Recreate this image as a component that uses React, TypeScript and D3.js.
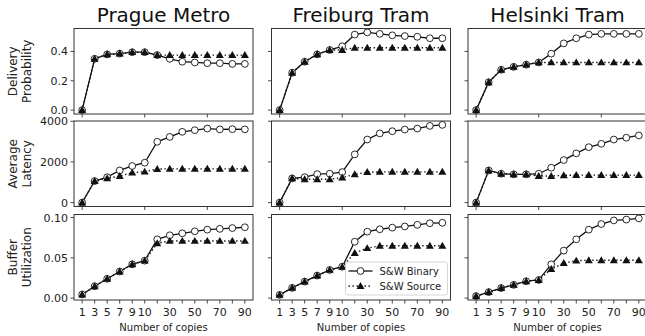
import React from "react";
import * as d3 from "d3";

const xLabels = ["1", "3", "5", "7", "9", "10", "20", "30", "40", "50", "60", "70", "80", "90"];
const shownXLabels = ["1", "3", "5", "7", "9", "10", "30", "50", "70", "90"];
const cities = ["Prague Metro", "Freiburg Tram", "Helsinki Tram"];
const metrics = [["Delivery", "Probability"], ["Average", "Latency"], ["Buffer", "Utilization"]];
const seriesNames = ["S&W Binary", "S&W Source"];

// Delivery probability
const pragueDeliveryBinary = [0, 0.35, 0.38, 0.385, 0.395, 0.395, 0.375, 0.35, 0.33, 0.325, 0.32, 0.32, 0.315, 0.315];
const pragueDeliverySource = [0, 0.35, 0.38, 0.385, 0.395, 0.395, 0.375, 0.375, 0.375, 0.375, 0.375, 0.375, 0.375, 0.375];
const freiburgDeliveryBinary = [0, 0.255, 0.33, 0.38, 0.41, 0.435, 0.515, 0.53, 0.52, 0.51, 0.505, 0.5, 0.49, 0.49];
const freiburgDeliverySource = [0, 0.255, 0.33, 0.38, 0.41, 0.41, 0.425, 0.425, 0.425, 0.425, 0.425, 0.425, 0.425, 0.425];
const helsinkiDeliveryBinary = [0, 0.19, 0.275, 0.295, 0.31, 0.325, 0.385, 0.455, 0.49, 0.515, 0.52, 0.52, 0.52, 0.52];
const helsinkiDeliverySource = [0, 0.19, 0.275, 0.295, 0.31, 0.325, 0.325, 0.325, 0.325, 0.325, 0.325, 0.325, 0.325, 0.325];

// Average latency
const pragueLatencyBinary = [0, 1060, 1250, 1580, 1800, 1960, 2990, 3230, 3480, 3560, 3640, 3600, 3610, 3600];
const pragueLatencySource = [0, 1060, 1190, 1300, 1470, 1520, 1650, 1660, 1660, 1660, 1660, 1660, 1660, 1660];
const freiburgLatencyBinary = [0, 1190, 1250, 1400, 1420, 1500, 2370, 3100, 3400, 3510, 3590, 3640, 3770, 3820];
const freiburgLatencySource = [0, 1190, 1150, 1150, 1150, 1230, 1390, 1500, 1510, 1510, 1510, 1510, 1510, 1510];
const helsinkiLatencyBinary = [0, 1580, 1420, 1390, 1390, 1420, 1715, 2090, 2420, 2725, 2890, 3100, 3190, 3300];
const helsinkiLatencySource = [0, 1580, 1420, 1390, 1390, 1310, 1310, 1340, 1350, 1350, 1350, 1350, 1350, 1350];

// Buffer utilization
const pragueBufferBinary = [0.0045, 0.0148, 0.024, 0.033, 0.042, 0.0465, 0.073, 0.078, 0.0805, 0.083, 0.085, 0.086, 0.087, 0.088];
const pragueBufferSource = [0.0045, 0.0148, 0.024, 0.033, 0.042, 0.0465, 0.068, 0.071, 0.071, 0.071, 0.071, 0.071, 0.071, 0.071];
const freiburgBufferBinary = [0.004, 0.0127, 0.0205, 0.028, 0.035, 0.039, 0.07, 0.0825, 0.0855, 0.0875, 0.089, 0.091, 0.093, 0.0935];
const freiburgBufferSource = [0.004, 0.0127, 0.0205, 0.028, 0.035, 0.039, 0.056, 0.062, 0.065, 0.065, 0.065, 0.065, 0.065, 0.065];
const helsinkiBufferBinary = [0.0025, 0.0075, 0.0125, 0.0165, 0.021, 0.0225, 0.042, 0.059, 0.073, 0.085, 0.092, 0.0965, 0.0975, 0.099];
const helsinkiBufferSource = [0.0025, 0.0075, 0.0125, 0.0165, 0.021, 0.0225, 0.036, 0.0435, 0.0465, 0.047, 0.047, 0.047, 0.047, 0.047];

const yTicks = [[0, 0.2, 0.4], [0, 2000, 4000], [0, 0.05, 0.1]];
const yFormats = [d3.format(".1f"), d3.format("d"), d3.format(".2f")];

const grid: number[][][][] = [
  [
    [pragueDeliveryBinary, pragueDeliverySource],
    [freiburgDeliveryBinary, freiburgDeliverySource],
    [helsinkiDeliveryBinary, helsinkiDeliverySource],
  ],
  [
    [pragueLatencyBinary, pragueLatencySource],
    [freiburgLatencyBinary, freiburgLatencySource],
    [helsinkiLatencyBinary, helsinkiLatencySource],
  ],
  [
    [pragueBufferBinary, pragueBufferSource],
    [freiburgBufferBinary, freiburgBufferSource],
    [helsinkiBufferBinary, helsinkiBufferSource],
  ],
];

const W = 645;
const H = 336;
const colLeft = [74, 271.5, 468];
const panelW = 179;
const rowTop = [28.5, 121, 214.5];
const panelH = 85.5;
const FONT = "DejaVu Sans, sans-serif";
const spine = "#333";

const triangle = d3.symbol().type(d3.symbolTriangle).size(28)();

export default function App() {
  const n = xLabels.length;
  const x = d3.scaleLinear().domain([-0.65, n - 1 + 0.65]).range([0, panelW]);

  return (
    <svg width={W} height={H} style={{ position: "absolute", left: 0, top: 0 }} fontFamily={FONT}>
      <rect width={W} height={H} fill="white" />
      {cities.map((c, ci) => (
        <text key={c} x={colLeft[ci] + panelW / 2} y={21.5} textAnchor="middle" fontSize={20} fill="#111">
          {c}
        </text>
      ))}
      {grid.map((row, ri) => {
        const all = row.flat(2);
        const mn = d3.min(all)!;
        const mx = d3.max(all)!;
        const pad = (mx - mn) * 0.05;
        const y = d3.scaleLinear().domain([mn - pad, mx + pad]).range([panelH, 0]);
        const cy = rowTop[ri] + panelH / 2;
        return (
          <g key={ri}>
            <text transform={`translate(16.5,${cy}) rotate(-90)`} textAnchor="middle" fontSize={12} fill="#222">
              {metrics[ri][0]}
            </text>
            <text transform={`translate(30.5,${cy}) rotate(-90)`} textAnchor="middle" fontSize={12} fill="#222">
              {metrics[ri][1]}
            </text>
            {row.map((panel, ci) => {
              const lineGen = d3
                .line<number>()
                .x((_, i) => x(i))
                .y((v) => y(v));
              const isBottom = ri === 2;
              const tickIdx = isBottom ? d3.range(n) : [0, 5, 10];
              return (
                <g key={ci} transform={`translate(${colLeft[ci]},${rowTop[ri]})`}>
                  <defs>
                    <clipPath id={`clip-${ri}-${ci}`}>
                      <rect x={-6} y={-6} width={panelW + 12} height={panelH + 12} />
                    </clipPath>
                  </defs>
                  {tickIdx.map((i) => (
                    <line key={i} x1={x(i)} x2={x(i)} y1={panelH} y2={panelH + 3.5} stroke={spine} strokeWidth={0.9} />
                  ))}
                  {isBottom &&
                    xLabels.map((l, i) =>
                      shownXLabels.includes(l) ? (
                        <text key={l} x={x(i)} y={panelH + 15.5} textAnchor="middle" fontSize={11} fill="#222">
                          {l}
                        </text>
                      ) : null
                    )}
                  {isBottom && (
                    <text x={panelW / 2} y={panelH + 31} textAnchor="middle" fontSize={10} fill="#222">
                      Number of copies
                    </text>
                  )}
                  {yTicks[ri].map((t) => (
                    <g key={t}>
                      <line x1={-3.5} x2={0} y1={y(t)} y2={y(t)} stroke={spine} strokeWidth={0.9} />
                      {ci === 0 && (
                        <text x={-6} y={y(t)} dy="0.36em" textAnchor="end" fontSize={11} fill="#222">
                          {yFormats[ri](t)}
                        </text>
                      )}
                    </g>
                  ))}
                  <g clipPath={`url(#clip-${ri}-${ci})`}>
                    <path d={lineGen(panel[0])!} fill="none" stroke="#111" strokeWidth={1.3} />
                    {panel[0].map((v, i) => (
                      <circle key={i} cx={x(i)} cy={y(v)} r={3.4} fill="white" stroke="#111" strokeWidth={0.9} />
                    ))}
                    <path d={lineGen(panel[1])!} fill="none" stroke="#111" strokeWidth={1.4} strokeDasharray="1.4,2.6" />
                    {panel[1].map((v, i) => (
                      <path key={i} d={triangle!} transform={`translate(${x(i)},${y(v) + 0.6})`} fill="#111" />
                    ))}
                  </g>
                  <rect x={0} y={0} width={panelW} height={panelH} fill="none" stroke={spine} strokeWidth={1} />
                  {ri === 2 && ci === 1 && (
                    <g transform={`translate(${panelW - 105},${panelH - 38})`}>
                      <rect x={0} y={0} width={102} height={33} rx={2.5} fill="white" fillOpacity={0.85} stroke="#ccc" strokeWidth={0.8} />
                      <line x1={3} x2={27} y1={9} y2={9} stroke="#111" strokeWidth={1.3} />
                      <circle cx={15} cy={9} r={3.4} fill="white" stroke="#111" strokeWidth={0.9} />
                      <text x={34} y={9} dy="0.36em" fontSize={10} fill="#222">
                        {seriesNames[0]}
                      </text>
                      <line x1={3} x2={27} y1={24} y2={24} stroke="#111" strokeWidth={1.4} strokeDasharray="1.4,2.6" />
                      <path d={triangle!} transform={`translate(15,24.6)`} fill="#111" />
                      <text x={34} y={24} dy="0.36em" fontSize={10} fill="#222">
                        {seriesNames[1]}
                      </text>
                    </g>
                  )}
                </g>
              );
            })}
          </g>
        );
      })}
    </svg>
  );
}
